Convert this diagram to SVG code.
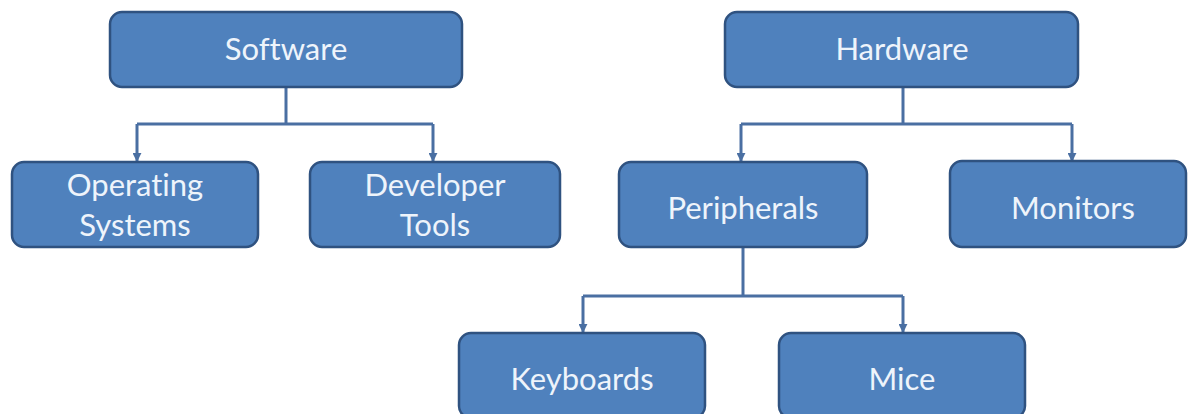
<svg xmlns="http://www.w3.org/2000/svg" width="1188" height="414" viewBox="0 0 1188 414">
  <defs>
    <marker id="arrow" viewBox="0 0 10 10" refX="9" refY="5" markerWidth="9" markerHeight="9" markerUnits="userSpaceOnUse" orient="auto">
      <path d="M0,0 L10,5 L0,10 z" fill="#4a6fa2"/>
    </marker>
    <style>
      .box { fill: #4f81bd; stroke: #2f5280; stroke-width: 2.5; }
      .lbl { font-family: "Lato", "Open Sans", "Liberation Sans", sans-serif; font-size: 31px; fill: #eef4fb; text-anchor: middle; font-variant-ligatures: none; font-feature-settings: "liga" 0; }
      .wire { fill: none; stroke: #4a6fa2; stroke-width: 3; }
    </style>
  </defs>
  <rect width="1188" height="414" fill="#ffffff"/>

  <g id="connectors">
    <path class="wire" d="M286,87 V124"/>
    <path class="wire" d="M137,124 H433"/>
    <path class="wire" d="M137,124 V161" marker-end="url(#arrow)"/>
    <path class="wire" d="M433,124 V161" marker-end="url(#arrow)"/>

    <path class="wire" d="M903,87 V124"/>
    <path class="wire" d="M741,124 H1072"/>
    <path class="wire" d="M741,124 V161" marker-end="url(#arrow)"/>
    <path class="wire" d="M1072,124 V161" marker-end="url(#arrow)"/>

    <path class="wire" d="M743,247 V296"/>
    <path class="wire" d="M583,296 H903"/>
    <path class="wire" d="M583,296 V332" marker-end="url(#arrow)"/>
    <path class="wire" d="M903,296 V332" marker-end="url(#arrow)"/>
  </g>

  <g id="software">
    <rect class="box" x="110" y="12" width="352" height="75" rx="12"/>
    <text class="lbl" x="286" y="60">Software</text>
  </g>
  <g id="hardware">
    <rect class="box" x="725" y="12" width="353" height="75" rx="12"/>
    <text class="lbl" x="902" y="60">Hardware</text>
  </g>
  <g id="operating-systems">
    <rect class="box" x="12" y="162" width="246" height="85" rx="12"/>
    <text class="lbl" x="135" y="196">Operating</text>
    <text class="lbl" x="135" y="236">Systems</text>
  </g>
  <g id="developer-tools">
    <rect class="box" x="310" y="162" width="250" height="85" rx="12"/>
    <text class="lbl" x="435" y="196">Developer</text>
    <text class="lbl" x="435" y="236">Tools</text>
  </g>
  <g id="peripherals">
    <rect class="box" x="619" y="162" width="248" height="85" rx="12"/>
    <text class="lbl" x="743" y="219">Peripherals</text>
  </g>
  <g id="monitors">
    <rect class="box" x="950" y="161" width="236" height="86" rx="12"/>
    <text class="lbl" x="1073" y="219">Monitors</text>
  </g>
  <g id="keyboards">
    <rect class="box" x="459" y="333" width="246" height="85" rx="12"/>
    <text class="lbl" x="582" y="390">Keyboards</text>
  </g>
  <g id="mice">
    <rect class="box" x="779" y="333" width="246" height="85" rx="12"/>
    <text class="lbl" x="902" y="390">Mice</text>
  </g>
</svg>
